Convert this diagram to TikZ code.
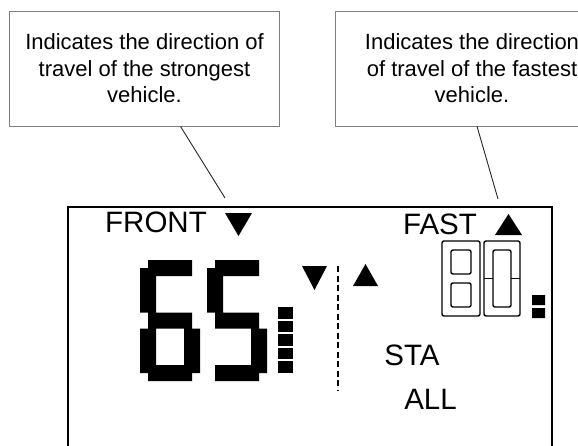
\documentclass[tikz,border=0pt]{standalone}
\usepackage{fontspec}
\setmainfont{Liberation Sans}
\begin{document}
\begin{tikzpicture}[x=1pt,y=-1pt,
  note/.style={draw=gray,line width=1pt,align=center,inner sep=0pt,
    minimum width=270,minimum height=115,font=\fontsize{22}{26.5}\selectfont},
  pointer/.style={draw=black!85,line width=0.9pt},
  lcd/.style={inner sep=0pt,font=\fontsize{29.5}{30}\selectfont},
  oseg/.style={draw=black,line width=1.4pt,rounded corners=2pt}]
\useasboundingbox (0,0) rectangle (578,445);
\node[note] (strongnote) at (144.5,68.5) {Indicates the direction of\\travel of the strongest\\vehicle.};
\node[note,minimum width=274] (fastnote) at (472,68.5) {Indicates the direction\\of travel of the fastest\\vehicle.};
\coordinate (strongtip) at (225,198);
\coordinate (fasttip) at (498,199);
\draw[pointer] (strongnote) -- (strongtip);
\draw[pointer] (fastnote.275) -- (fasttip);
\draw[line width=2pt] (68,207) rectangle (552,460);
\node[lcd] (front) at (156,222.5) {FRONT};
\fill (225,213) -- (252,213) -- (238.5,236) -- cycle;
\node[lcd] (fast) at (440,224) {FAST};
\fill (495,235) -- (522,235) -- (508.5,214) -- cycle;
\node[lcd] (sta) at (412,355) {STA};
\node[lcd] (all) at (430.5,399.5) {ALL};
\begin{scope}[shift={(140,260)}]
\fill (8,0) rectangle (52,16) (0,8) rectangle (16,52.5) (8,52.5) rectangle (52,68.5)
  (0,68.5) rectangle (16,113) (44,68.5) rectangle (60,113) (8,105) rectangle (52,121);
\end{scope}
\begin{scope}[shift={(207,260)}]
\fill (8,0) rectangle (52,16) (0,8) rectangle (16,52.5) (8,52.5) rectangle (52,68.5)
  (44,68.5) rectangle (60,113) (8,105) rectangle (52,121);
\end{scope}
\foreach \k in {0,...,4}
  \fill (278,{307+13.6*\k}) rectangle (293,{318.5+13.6*\k});
\fill (302,266) -- (327,266) -- (314.5,290) -- cycle;
\draw[line width=2pt,dash pattern=on 6pt off 3.5pt] (338,266) -- (338,390);
\fill (353,286) -- (378,286) -- (365.5,264) -- cycle;
\begin{scope}[shift={(442,241)}]
\draw[oseg] (0,0) rectangle (38,75);
\draw[oseg] (9,9) rectangle (29,33);
\draw[oseg] (9,42) rectangle (29,66);
\end{scope}
\begin{scope}[shift={(484,241)}]
\draw[oseg] (0,0) rectangle (36,75);
\draw[oseg] (9,9) rectangle (27,66);
\draw[line width=1.4pt] (0,37.5) -- (9,37.5) (27,37.5) -- (36,37.5);
\end{scope}
\fill (532,295) rectangle (545,305) (532,308) rectangle (545,318);
\end{tikzpicture}
\end{document}
